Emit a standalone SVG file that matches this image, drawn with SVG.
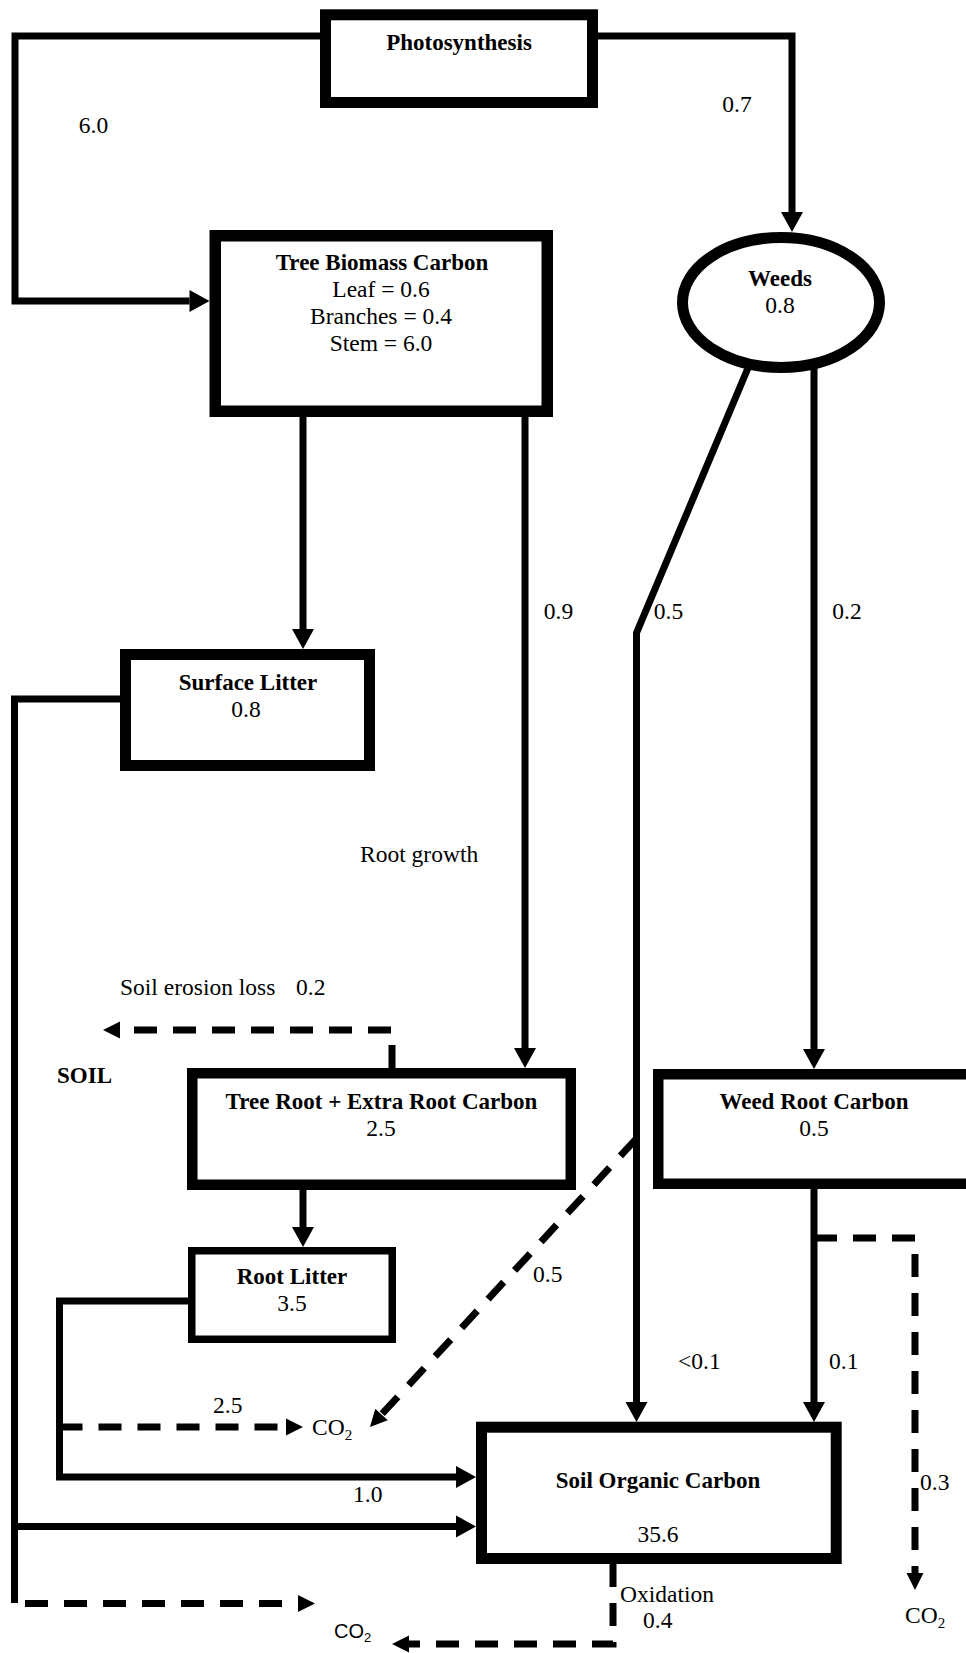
<svg xmlns="http://www.w3.org/2000/svg" width="966" height="1653" viewBox="0 0 966 1653">
  <defs>
    <marker id="arrow" markerUnits="userSpaceOnUse" markerWidth="20" markerHeight="22" refX="0" refY="11" orient="auto" overflow="visible">
      <path d="M0,0 L20,11 L0,22 Z" fill="#000"/>
    </marker>
    <marker id="darrow" markerUnits="userSpaceOnUse" markerWidth="17" markerHeight="17" refX="0" refY="8.5" orient="auto" overflow="visible">
      <path d="M0,0 L17,8.5 L0,17 Z" fill="#000"/>
    </marker>
  </defs>
  <style>
    .box { fill: #fff; stroke: #000; }
    .flow { fill: none; stroke: #000; stroke-width: 7; stroke-linejoin: miter; }
    .dash { fill: none; stroke: #000; stroke-width: 7; stroke-dasharray: 23 16; }
    text { font-family: "Liberation Serif", "Times New Roman", serif; font-size: 23.5px; fill: #000; }
    .b { font-weight: bold; font-size: 23px; }
    .c { text-anchor: middle; }
    .sans { font-family: "Liberation Sans", Arial, sans-serif; font-size: 20px; }
  </style>
  <rect width="966" height="1653" fill="#fff"/>

  <!-- connectors -->
  <g id="connectors">
    <path class="flow" d="M320,36 H15 V301 H189.5" marker-end="url(#arrow)"/>
    <path class="flow" d="M598,36 H792 V212" marker-end="url(#arrow)"/>
    <path class="flow" d="M303,417 V629" marker-end="url(#arrow)"/>
    <path class="flow" d="M525,417 V1048" marker-end="url(#arrow)"/>
    <path class="flow" d="M748,368 L636.5,633 V1402" marker-end="url(#arrow)"/>
    <path class="flow" d="M814,368 V1049" marker-end="url(#arrow)"/>
    <path class="flow" d="M120,699 H14.5 V1603"/>
    <path class="flow" d="M14.5,1526.5 H456" marker-end="url(#arrow)"/>
    <path class="dash" d="M25,1603.5 H298" marker-end="url(#darrow)"/>
    <path class="flow" d="M303,1190 V1227" marker-end="url(#arrow)"/>
    <path class="dash" d="M392,1068 V1030 H120" stroke-dashoffset="0" marker-end="url(#darrow)"/>
    <path class="flow" d="M188,1301 H59.5 V1477 H456" marker-end="url(#arrow)"/>
    <path class="dash" d="M59.5,1427 H286" marker-end="url(#darrow)"/>
    <path class="dash" d="M636,1139 L381.5,1414.5" stroke-dasharray="21 14" marker-end="url(#darrow)"/>
    <path class="flow" d="M814,1189 V1402" marker-end="url(#arrow)"/>
    <path class="dash" d="M814,1238 H915 V1573" marker-end="url(#darrow)"/>
    <path class="dash" d="M613,1564 V1644 H409" marker-end="url(#darrow)"/>
  </g>

  <!-- flow labels -->
  <g id="flow-labels">
    <text x="93.5" y="133" class="c">6.0</text>
    <text x="737" y="112" class="c">0.7</text>
    <text x="558.5" y="619" class="c">0.9</text>
    <text x="668.5" y="619" class="c">0.5</text>
    <text x="847" y="619" class="c">0.2</text>
    <text x="360" y="862">Root growth</text>
    <text x="120" y="995">Soil erosion loss</text>
    <text x="296" y="995">0.2</text>
    <text x="57" y="1083" class="b">SOIL</text>
    <text x="533" y="1282">0.5</text>
    <text x="678" y="1369">&lt;0.1</text>
    <text x="829" y="1369">0.1</text>
    <text x="213" y="1413">2.5</text>
    <text x="312" y="1435">CO<tspan font-size="15" dy="5">2</tspan></text>
    <text x="353" y="1502">1.0</text>
    <text x="920" y="1490">0.3</text>
    <text x="620" y="1602">Oxidation</text>
    <text x="643" y="1628">0.4</text>
    <text x="905" y="1623">CO<tspan font-size="15" dy="5">2</tspan></text>
    <text x="334" y="1638" class="sans">CO<tspan font-size="13" dy="4">2</tspan></text>
  </g>

  <g id="photosynthesis">
    <rect class="box" x="325.5" y="14.8" width="267" height="87.7" stroke-width="11"/>
    <text x="459" y="50" class="b c">Photosynthesis</text>
  </g>

  <g id="tree-biomass">
    <rect class="box" x="215.25" y="235.75" width="332" height="175.5" stroke-width="11.5"/>
    <text x="382" y="270" class="b c">Tree Biomass Carbon</text>
    <text x="381" y="297" class="c">Leaf = 0.6</text>
    <text x="381" y="324" class="c">Branches = 0.4</text>
    <text x="381" y="351" class="c">Stem = 6.0</text>
  </g>

  <g id="weeds">
    <ellipse class="box" cx="781" cy="302.5" rx="98.5" ry="65" stroke-width="11"/>
    <text x="780" y="286" class="b c">Weeds</text>
    <text x="780" y="313" class="c">0.8</text>
  </g>

  <g id="surface-litter">
    <rect class="box" x="125.5" y="654.5" width="244" height="111" stroke-width="11"/>
    <text x="248" y="690" class="b c">Surface Litter</text>
    <text x="246" y="717" class="c">0.8</text>
  </g>

  <g id="tree-root">
    <rect class="box" x="192.25" y="1073.25" width="378.5" height="111.5" stroke-width="10.5"/>
    <text x="381.5" y="1109" class="b c">Tree Root + Extra Root Carbon</text>
    <text x="381" y="1136" class="c">2.5</text>
  </g>

  <g id="weed-root">
    <rect class="box" x="658.25" y="1074.25" width="330" height="109.5" stroke-width="10.5"/>
    <text x="814" y="1109" class="b c">Weed Root Carbon</text>
    <text x="814" y="1136" class="c">0.5</text>
  </g>

  <g id="root-litter">
    <rect class="box" x="191.75" y="1250.75" width="200.5" height="88.5" stroke-width="7.5"/>
    <text x="292" y="1284" class="b c">Root Litter</text>
    <text x="292" y="1311" class="c">3.5</text>
  </g>

  <g id="soil-organic-carbon">
    <rect class="box" x="481.5" y="1427.2" width="354.7" height="131.3" stroke-width="11"/>
    <text x="658" y="1488" class="b c">Soil Organic Carbon</text>
    <text x="658" y="1542" class="c">35.6</text>
  </g>
</svg>
